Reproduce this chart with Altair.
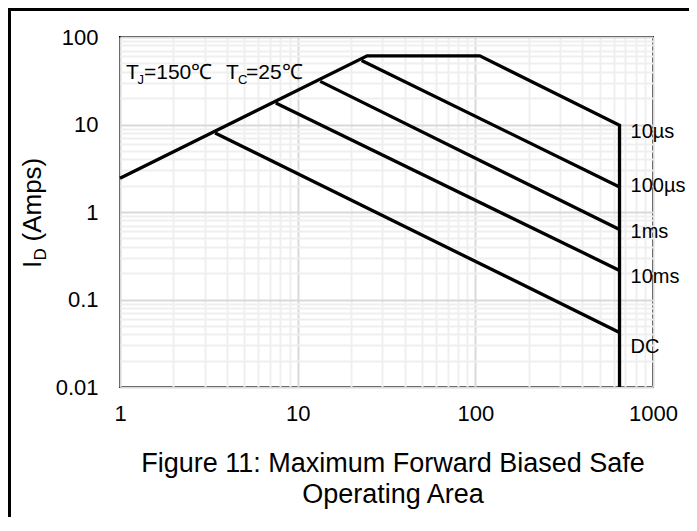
import altair as alt
import pandas as pd

FONT = "Liberation Sans, Arial, sans-serif"

# ---- data ----
x_major = [1, 10, 100, 1000]
y_major = [0.01, 0.1, 1, 10, 100]

series_names = ["10µs", "100µs", "1ms", "10ms", "DC"]
v_10us = [1, 24.6, 106, 648, 648]
i_10us = [2.43, 61, 61, 9.8, 0.01]
v_100us = [22.9, 648]
i_100us = [54, 1.93]
v_1ms = [13.4, 648]
i_1ms = [31.1, 0.63]
v_10ms = [7.53, 648]
i_10ms = [17.6, 0.215]
v_dc = [3.43, 648]
i_dc = [8.0, 0.042]

label_v = [648, 648, 648, 648, 648]
label_i = [7.1, 1.68, 0.50, 0.154, 0.0244]

# ---- tables ----
rows = []
for name, vs, is_ in zip(series_names,
                         [v_10us, v_100us, v_1ms, v_10ms, v_dc],
                         [i_10us, i_100us, i_1ms, i_10ms, i_dc]):
    for k, (v, i) in enumerate(zip(vs, is_)):
        rows.append({"series": name, "V": v, "I": i, "order": k})
df = pd.DataFrame(rows)
labels = pd.DataFrame({"name": series_names, "V": label_v, "I": label_i})

x_grid = sorted(set([round(m * 10 ** e, 6) for e in range(0, 3) for m in range(1, 10)] + x_major))
y_grid = sorted(set([round(m * 10 ** e, 6) for e in range(-2, 2) for m in range(1, 10)] + y_major))

major_test = "abs(log(datum.value)/LN10 - round(log(datum.value)/LN10)) < 0.001"
grid_color = {"condition": {"test": major_test, "value": "#d9d9d9"}, "value": "#efefef"}
label_expr = f"({major_test}) ? toString(datum.value) : ''"

x_scale = alt.Scale(type="log", domain=[1, 1000], nice=False)
y_scale = alt.Scale(type="log", domain=[0.01, 100], nice=False)

x_axis = alt.Axis(values=x_grid, labelExpr=label_expr, grid=True, gridColor=grid_color,
                  gridWidth=2, ticks=False, tickSize=0, domain=False, labelPadding=16,
                  labelFontSize=22, labelFont=FONT, labelColor="#000", labelFlush=False,
                  labelOverlap=False, title=None)
y_axis = alt.Axis(values=y_grid, labelExpr=label_expr, grid=True, gridColor=grid_color,
                  gridWidth=2, ticks=False, tickSize=0, domain=False, labelPadding=22,
                  labelFontSize=22, labelFont=FONT, labelColor="#000", labelFlush=False,
                  labelOverlap=False, title=None)

lines = alt.Chart(df).mark_line(color="black", strokeWidth=3.3).encode(
    x=alt.X("V:Q", scale=x_scale, axis=x_axis),
    y=alt.Y("I:Q", scale=y_scale, axis=y_axis),
    detail="series:N",
    order="order:Q",
)

end_labels = alt.Chart(labels).mark_text(
    align="left", baseline="alphabetic", dx=11, fontSize=20, font=FONT, color="black"
).encode(x="V:Q", y="I:Q", text="name:N")

one = pd.DataFrame({"k": [0]})


def txt(s, x, y, size, angle=0, align="left"):
    return alt.Chart(one).mark_text(
        text=s, fontSize=size, angle=angle, align=align, baseline="alphabetic",
        font=FONT, color="black"
    ).encode(x=alt.value(x), y=alt.value(y))


def rule(x, y, x2=None, y2=None):
    enc = {"x": alt.value(x), "y": alt.value(y)}
    if x2 is not None:
        enc["x2"] = alt.value(x2)
    if y2 is not None:
        enc["y2"] = alt.value(y2)
    return alt.Chart(one).mark_rule(color="black", strokeWidth=3).encode(**enc)


# annotation T_J=150℃ T_C=25℃
ax, ay = 6, 42
annot = [
    txt("T", ax, ay, 21),
    txt("J", ax + 11.5, ay + 5, 13),
    txt("=150℃", ax + 18, ay, 21),
    txt("T", ax + 100, ay, 21),
    txt("C", ax + 112, ay + 5, 13),
    txt("=25℃", ax + 120, ay, 21),
]

# y title I_D (Amps), rotated
tx, ty = -79, 231
ytitle = [
    txt("I", tx, ty, 26, angle=270),
    txt("D", tx + 5, ty - 7.5, 17, angle=270),
    txt("(Amps)", tx, ty - 26.5, 26, angle=270),
]

caption = [
    txt("Figure 11: Maximum Forward Biased Safe", 273, 434.7, 27, align="center"),
    txt("Operating Area", 273, 466, 27, align="center"),
]

borders = [
    rule(-110.5, -29, y2=480),
    rule(-112, -27.5, x2=569),
]

chart = alt.layer(lines, end_labels, *annot, *ytitle, *caption, *borders).properties(
    width=533,
    height=350,
    autosize=alt.AutoSizeParams(type="none"),
    padding={"left": 112, "top": 29, "right": 36, "bottom": 130},
    background="white",
).configure_view(stroke="#000", strokeWidth=2)

chart.save("out.html", embed_options={"renderer": "svg", "actions": False})
